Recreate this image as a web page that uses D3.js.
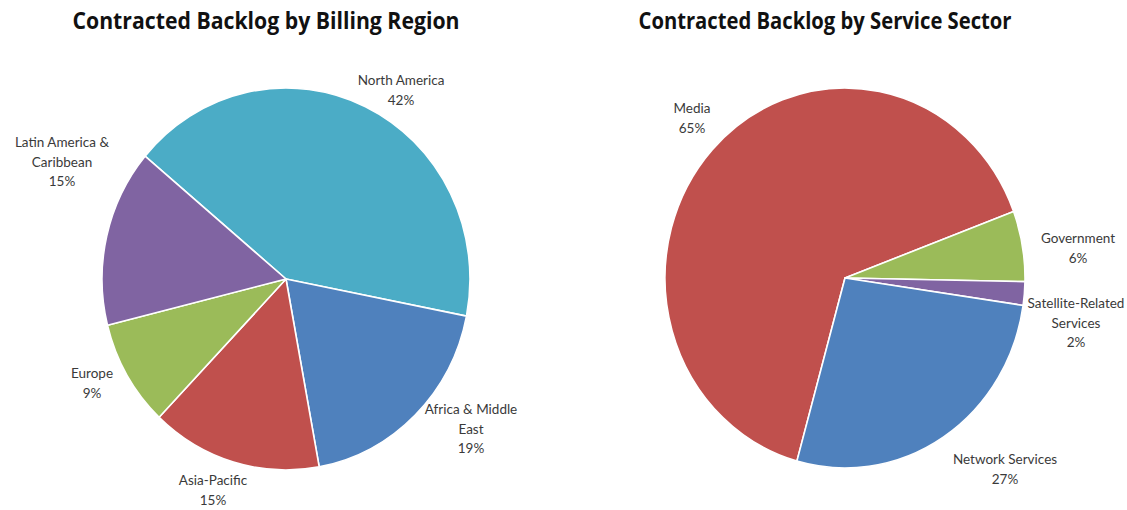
<!DOCTYPE html>
<html><head><meta charset="utf-8">
<script src="https://cdn.jsdelivr.net/npm/d3@7"></script>
<style>html,body{margin:0;padding:0;background:#fff;}svg{display:block;}</style>
</head><body>
<svg id="chart" width="1127" height="510"></svg>
<script>
// ---- Data ----
const regionCategories = ["North America", "Africa & Middle East", "Asia-Pacific", "Europe", "Latin America & Caribbean"];
const regionValues = [42, 19, 15, 9, 15];
const regionLabelLines = [["North America", "42%"], ["Africa & Middle", "East", "19%"], ["Asia-Pacific", "15%"], ["Europe", "9%"], ["Latin America &", "Caribbean", "15%"]];

const sectorCategories = ["Media", "Government", "Satellite-Related Services", "Network Services"];
const sectorValues = [65, 6, 2, 27];
const sectorLabelLines = [["Media", "65%"], ["Government", "6%"], ["Satellite-Related", "Services", "2%"], ["Network Services", "27%"]];

// ---- Layout / style ----
const regionColors = ["#4BACC6", "#4F81BD", "#C0504D", "#9BBB59", "#8064A2"];
const sectorColors = ["#C0504D", "#9BBB59", "#8064A2", "#4F81BD"];

const svg = d3.select("#chart");
const FONT = "Lato, 'Open Sans', sans-serif";

function drawPie(cfg) {
  const g = svg.append("g").attr("transform", `translate(${cfg.cx},${cfg.cy})`);
  const pg = g.append("g").attr("transform", `scale(1,${cfg.ry / cfg.r})`);
  const pie = d3.pie().sort(null).value(d => d)
    .startAngle(cfg.start * Math.PI / 180)
    .endAngle((cfg.start + 360) * Math.PI / 180);
  const arcs = pie(cfg.values);
  const arc = d3.arc().innerRadius(0).outerRadius(cfg.r);
  pg.selectAll("path").data(arcs).join("path")
    .attr("d", arc)
    .attr("fill", (d, i) => cfg.colors[i])
    .attr("stroke", "#ffffff")
    .attr("stroke-width", 1.6)
    .attr("vector-effect", "non-scaling-stroke")
    .attr("stroke-linejoin", "round");
  // labels
  const lg = g.selectAll("text.lbl").data(arcs).join("text")
    .attr("class", "lbl")
    .attr("text-anchor", "middle")
    .attr("font-family", FONT)
    .attr("font-size", 13.5)
    .attr("fill", "#3a3a3a")
    .attr("transform", (d, i) => `translate(${cfg.labelOffsets[i][0]},${cfg.labelOffsets[i][1]})`);
  lg.each(function(d, i) {
    const t = d3.select(this);
    cfg.lines[i].forEach((ln, j) => {
      t.append("tspan").attr("x", 0).attr("y", j * 19.5).text(ln);
    });
  });
  // title
  svg.append("text")
    .attr("x", cfg.titleX).attr("y", 29)
    .attr("text-anchor", "middle")
    .attr("font-family", "'Open Sans', Lato, sans-serif")
    .attr("font-weight", "bold")
    .attr("font-size", 23)
    .attr("fill", "#111")
    .attr("textLength", cfg.titleW)
    .attr("lengthAdjust", "spacingAndGlyphs")
    .text(cfg.title);
}

drawPie({
  cx: 286, cy: 279, r: 184, ry: 191, start: 310,
  values: regionValues, colors: regionColors, lines: regionLabelLines,
  labelOffsets: [[115, -194], [185, 135], [-73, 206], [-194, 99], [-224, -132]],
  title: "Contracted Backlog by Billing Region", titleX: 266, titleW: 387
});

drawPie({
  cx: 845, cy: 278, r: 180, ry: 190, start: 195.5,
  values: sectorValues, colors: sectorColors, lines: sectorLabelLines,
  labelOffsets: [[-153, -165], [233, -35], [231, 30], [160, 186]],
  title: "Contracted Backlog by Service Sector", titleX: 825, titleW: 373
});
</script>
</body></html>
